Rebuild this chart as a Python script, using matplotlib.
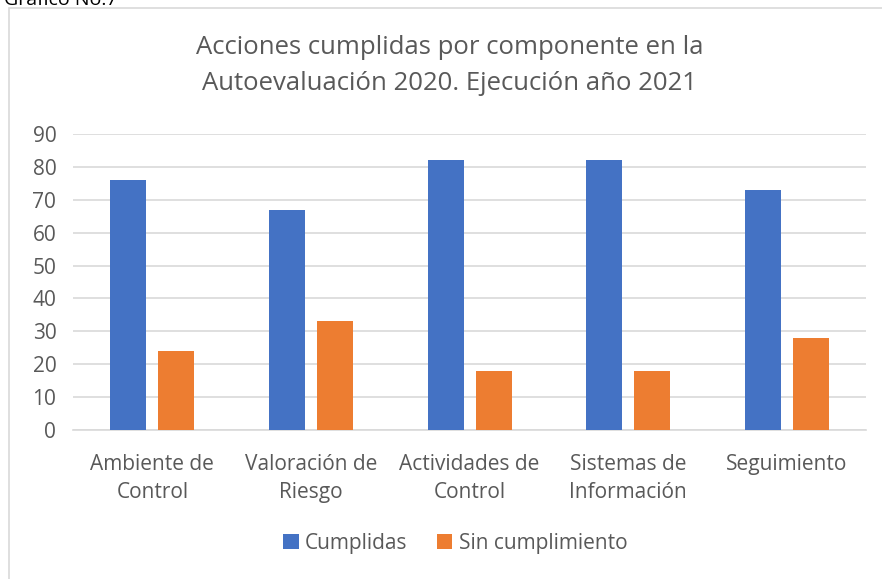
import numpy as np
import matplotlib.pyplot as plt
from matplotlib.patches import Rectangle

categorias = ['Ambiente de\nControl', 'Valoración de\nRiesgo', 'Actividades de\nControl',
              'Sistemas de\nInformación', 'Seguimiento']
cumplidas = [76, 67, 82, 82, 73]
sin_cumplimiento = [24, 33, 18, 18, 28]

azul = '#4472C4'
naranja = '#ED7D31'
gris = '#595959'

plt.rcParams['font.family'] = ['Open Sans', 'DejaVu Sans']

fig = plt.figure(figsize=(8.82, 5.79), dpi=100)
ax = fig.add_axes([0.0828, 0.2573, 0.8992, 0.5113])

# marco del gráfico
fig.patches.append(Rectangle((9 / 882, -0.01), 1.0, 1 - 8 / 579 + 0.01, transform=fig.transFigure,
                             fill=False, edgecolor='#D9D9D9', linewidth=1.2))
fig.text(0.005, 1.0, 'Gráfico No.7', fontsize=14, color='black', ha='left', va='center')

x = np.arange(len(categorias))
w = 0.227
ax.bar(x - 0.151, cumplidas, w, color=azul, label='Cumplidas', zorder=3)
ax.bar(x + 0.151, sin_cumplimiento, w, color=naranja, label='Sin cumplimiento', zorder=3)

ax.set_xlim(-0.5, len(categorias) - 0.5)
ax.set_ylim(0, 90)
ax.set_yticks(range(0, 91, 10))
ax.yaxis.grid(True, color='#D9D9D9', linewidth=1.2, zorder=0)
ax.set_xticks(x)
ax.set_xticklabels(categorias, fontsize=15, color=gris, linespacing=1.45)
ax.tick_params(axis='y', labelsize=15, labelcolor=gris, length=0, pad=12)
ax.tick_params(axis='x', length=0, pad=17)
for s in ['top', 'right', 'left']:
    ax.spines[s].set_visible(False)
ax.spines['bottom'].set_color('#D9D9D9')
ax.spines['bottom'].set_linewidth(1.2)

fig.text(0.51, 0.887, 'Acciones cumplidas por componente en la\nAutoevaluación 2020. Ejecución año 2021',
         fontsize=18.5, color=gris, ha='center', va='center', linespacing=1.6)

fig.legend(loc='center', bbox_to_anchor=(0.516, 0.062), ncol=2, frameon=False,
           fontsize=15, labelcolor=gris, handlelength=0.75, handleheight=0.75,
           handletextpad=0.3, columnspacing=1.4)

fig.savefig('out.png', dpi=100)
